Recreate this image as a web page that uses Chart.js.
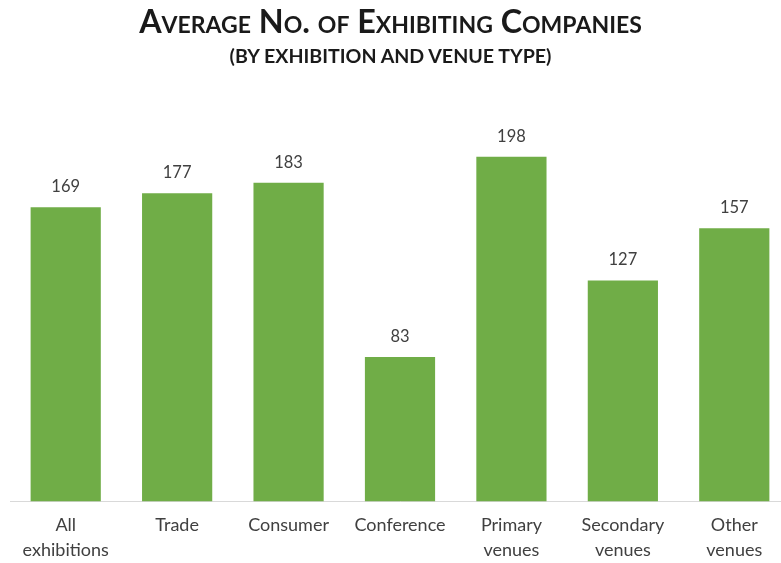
<!DOCTYPE html>
<html>
<head>
<meta charset="utf-8">
<script src="https://cdn.jsdelivr.net/npm/chart.js@4/dist/chart.umd.min.js"></script>
<style>
  html, body { margin: 0; padding: 0; background: #ffffff; overflow: hidden; }
  body { width: 781px; height: 563px; position: relative; }
  #wrap { position: absolute; left: 0; top: 0; width: 800px; height: 563px; }
  .title {
    position: absolute; left: 0; width: 781px; text-align: center;
    font-family: Lato, "Open Sans", sans-serif; color: #1a1a1a; font-weight: bold;
    white-space: nowrap;
  }
  #t1 { top: 1px; font-size: 32.3px; font-variant: small-caps; }
  #t2 { top: 44px; font-size: 19.6px; }
</style>
</head>
<body>
<div id="wrap"><canvas id="c"></canvas></div>
<div class="title" id="t1">Average No. of Exhibiting Companies</div>
<div class="title" id="t2">(BY EXHIBITION AND VENUE TYPE)</div>
<script>
const categories = [
  ["All", "exhibitions"],
  "Trade",
  "Consumer",
  "Conference",
  ["Primary", "venues"],
  ["Secondary", "venues"],
  ["Other", "venues"]
];
const avgExhibitors = [169, 177, 183, 83, 198, 127, 157];

const FONT = 'Lato, "Open Sans", sans-serif';

// writes each bar's value above it
const valueLabels = {
  id: 'valueLabels',
  afterDatasetsDraw(chart) {
    const ctx = chart.ctx;
    const meta = chart.getDatasetMeta(0);
    ctx.save();
    ctx.font = '16.5px ' + FONT;
    ctx.fillStyle = '#404040';
    ctx.textAlign = 'center';
    ctx.textBaseline = 'bottom';
    meta.data.forEach((bar, i) => {
      ctx.fillText(String(avgExhibitors[i]), bar.x, bar.y - 12);
    });
    ctx.restore();
  }
};

new Chart(document.getElementById('c'), {
  type: 'bar',
  data: {
    labels: categories,
    datasets: [{
      data: avgExhibitors,
      backgroundColor: '#70AD47',
      borderWidth: 0,
      barPercentage: 0.63,
      categoryPercentage: 1.0
    }]
  },
  options: {
    responsive: true,
    maintainAspectRatio: false,
    animation: false,
    layout: { padding: { top: 101, left: 10, right: 10, bottom: -11 } },
    plugins: { legend: { display: false }, tooltip: { enabled: false } },
    scales: {
      x: {
        grid: { display: false, drawTicks: false },
        border: { display: true, color: '#d9d9d9', width: 1 },
        ticks: {
          color: '#404040',
          font: { family: FONT, size: 18, lineHeight: 1.4 },
          padding: 11,
          maxRotation: 0,
          autoSkip: false
        }
      },
      y: {
        display: false,
        min: 0,
        max: 230
      }
    }
  },
  plugins: [valueLabels]
});
</script>
</body>
</html>
